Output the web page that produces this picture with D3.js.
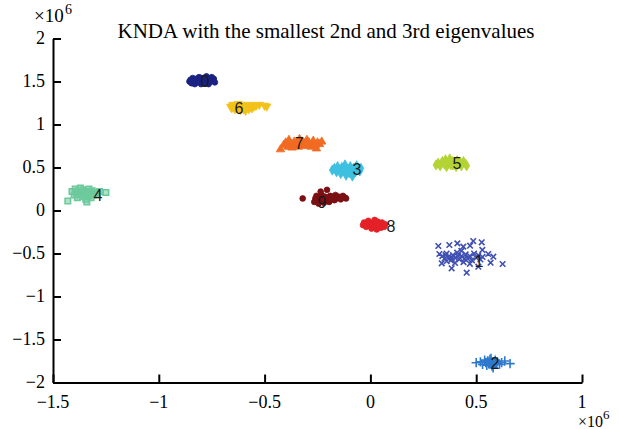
<!DOCTYPE html>
<html>
<head>
<meta charset="utf-8">
<script src="https://d3js.org/d3.v7.min.js"></script>
<style>
  body { margin: 0; background: #fff; }
  svg { display: block; }
</style>
</head>
<body>
<div class="chatterContainer"></div>
<script>

// class names, colours and the label positions (x, y in units of 10^6)
var classNames = ["0", "1", "2", "3", "4", "5", "6", "7", "8", "9"];
var classColors = ["#1c2283", "#4050b2", "#2f79cd", "#3ec0e0", "#6dca9d",
                   "#b4d335", "#f2c21b", "#f26b22", "#e32127", "#7a1013"];
var labelX = [-0.782, 0.513, 0.589, -0.063, -1.287, 0.409, -0.621, -0.337, 0.097, -0.229];
var labelY = [1.506, -0.587, -1.773, 0.483, 0.180, 0.552, 1.192, 0.785, -0.180, 0.099];

// tick labels
var xTicks = [-1.5, -1, -0.5, 0, 0.5, 1];
var yTicks = [-2, -1.5, -1, -0.5, 0, 0.5, 1, 1.5, 2];

// the points of every class (x, y in units of 10^6)
var points0 = [[-0.855,1.50],[-0.85,1.52],[-0.845,1.48],[-0.84,1.54],[-0.835,1.50],[-0.83,1.47],
  [-0.825,1.53],[-0.82,1.51],[-0.815,1.49],[-0.81,1.55],[-0.805,1.52],[-0.80,1.47],[-0.795,1.50],
  [-0.79,1.54],[-0.785,1.48],[-0.78,1.52],[-0.775,1.56],[-0.77,1.50],[-0.765,1.47],[-0.76,1.53],
  [-0.755,1.50],[-0.75,1.55],[-0.745,1.51],[-0.74,1.53],[-0.735,1.49],[-0.81,1.50],[-0.79,1.51],
  [-0.77,1.53],[-0.83,1.52],[-0.80,1.54]];
var points1 = [[0.321,-0.413],[0.373,-0.401],[0.411,-0.382],[0.439,-0.420],[0.471,-0.409],
  [0.486,-0.355],[0.526,-0.370],[0.529,-0.459],[0.557,-0.506],[0.568,-0.607],[0.581,-0.537],
  [0.625,-0.622],[0.510,-0.653],[0.455,-0.723],[0.384,-0.672],[0.337,-0.614],[0.326,-0.506],
  [0.34,-0.53],[0.35,-0.56],[0.36,-0.50],[0.37,-0.54],[0.38,-0.58],[0.39,-0.52],[0.40,-0.55],
  [0.41,-0.49],[0.42,-0.57],[0.43,-0.53],[0.44,-0.60],[0.45,-0.51],[0.46,-0.56],[0.47,-0.53],
  [0.48,-0.58],[0.49,-0.50],[0.50,-0.55],[0.51,-0.52],[0.52,-0.57],[0.40,-0.61],[0.36,-0.59],
  [0.43,-0.47],[0.47,-0.62],[0.53,-0.54],[0.355,-0.52],[0.385,-0.55],[0.415,-0.53],[0.445,-0.56]];
var points2 = [[0.50,-1.77],[0.52,-1.76],[0.53,-1.79],[0.54,-1.74],[0.545,-1.77],[0.55,-1.80],
  [0.555,-1.75],[0.56,-1.78],[0.565,-1.73],[0.57,-1.77],[0.575,-1.81],[0.58,-1.76],[0.585,-1.79],
  [0.59,-1.74],[0.595,-1.78],[0.60,-1.76],[0.61,-1.79],[0.62,-1.77],[0.635,-1.75],[0.66,-1.78],
  [0.57,-1.72],[0.58,-1.83]];
var points3 = [[-0.18,0.47],[-0.17,0.49],[-0.16,0.45],[-0.155,0.51],[-0.145,0.47],[-0.14,0.43],
  [-0.135,0.50],[-0.125,0.46],[-0.12,0.53],[-0.115,0.41],[-0.11,0.48],[-0.10,0.44],[-0.095,0.51],
  [-0.09,0.47],[-0.085,0.40],[-0.08,0.49],[-0.07,0.45],[-0.065,0.52],[-0.06,0.48],[-0.05,0.46],
  [-0.045,0.49],[-0.10,0.48],[-0.13,0.48]];
var points4 = [[-1.43,0.11],[-1.41,0.22],[-1.40,0.18],[-1.395,0.25],[-1.39,0.20],[-1.385,0.15],
  [-1.38,0.23],[-1.375,0.18],[-1.37,0.26],[-1.365,0.21],[-1.36,0.16],[-1.355,0.24],[-1.35,0.19],
  [-1.345,0.13],[-1.34,0.22],[-1.335,0.17],[-1.33,0.25],[-1.325,0.20],[-1.32,0.15],[-1.315,0.23],
  [-1.31,0.18],[-1.30,0.21],[-1.29,0.19],[-1.28,0.22],[-1.25,0.21],[-1.34,0.10],[-1.36,0.20]];
var points5 = [[0.31,0.53],[0.32,0.55],[0.33,0.52],[0.34,0.57],[0.35,0.54],[0.355,0.59],[0.36,0.51],
  [0.37,0.56],[0.375,0.60],[0.38,0.53],[0.39,0.57],[0.40,0.55],[0.405,0.51],[0.41,0.58],[0.42,0.54],
  [0.425,0.56],[0.43,0.52],[0.44,0.57],[0.45,0.54],[0.455,0.52],[0.39,0.53],[0.36,0.55]];
var points6 = [[-0.66,1.21],[-0.655,1.19],[-0.65,1.23],[-0.645,1.20],[-0.64,1.18],[-0.635,1.22],
  [-0.63,1.19],[-0.625,1.24],[-0.62,1.21],[-0.615,1.17],[-0.61,1.20],[-0.605,1.23],[-0.60,1.18],
  [-0.595,1.21],[-0.59,1.16],[-0.585,1.20],[-0.58,1.22],[-0.575,1.18],[-0.57,1.20],[-0.565,1.23],
  [-0.56,1.19],[-0.55,1.21],[-0.54,1.22],[-0.525,1.23],[-0.50,1.22],[-0.49,1.21],[-0.62,1.20],
  [-0.60,1.20]];
var points7 = [[-0.425,0.71],[-0.41,0.76],[-0.40,0.79],[-0.39,0.74],[-0.385,0.82],[-0.375,0.77],
  [-0.37,0.73],[-0.36,0.80],[-0.355,0.76],[-0.345,0.79],[-0.34,0.74],[-0.335,0.83],[-0.33,0.77],
  [-0.32,0.80],[-0.315,0.75],[-0.31,0.78],[-0.30,0.82],[-0.295,0.76],[-0.29,0.79],[-0.28,0.74],
  [-0.275,0.78],[-0.27,0.81],[-0.26,0.76],[-0.255,0.72],[-0.25,0.79],[-0.24,0.77],[-0.23,0.80],
  [-0.35,0.78],[-0.32,0.77],[-0.30,0.78]];
var points8 = [[-0.035,-0.17],[-0.03,-0.14],[-0.02,-0.19],[-0.015,-0.15],[-0.01,-0.12],[0.0,-0.17],
  [0.005,-0.21],[0.01,-0.14],[0.015,-0.19],[0.02,-0.11],[0.025,-0.16],[0.03,-0.22],[0.035,-0.13],
  [0.04,-0.18],[0.045,-0.15],[0.05,-0.20],[0.055,-0.14],[0.06,-0.17],[0.065,-0.19],[0.07,-0.16],
  [0.02,-0.17],[0.04,-0.16]];
var points9 = [[-0.32,0.14],[-0.265,0.10],[-0.26,0.14],[-0.255,0.17],[-0.25,0.12],[-0.245,0.08],
  [-0.24,0.15],[-0.235,0.11],[-0.23,0.18],[-0.225,0.13],[-0.22,0.09],[-0.215,0.16],[-0.21,0.12],
  [-0.205,0.24],[-0.20,0.15],[-0.195,0.10],[-0.19,0.17],[-0.185,0.13],[-0.18,0.16],[-0.17,0.12],
  [-0.165,0.18],[-0.16,0.14],[-0.15,0.16],[-0.14,0.13],[-0.13,0.17],[-0.12,0.15],[-0.115,0.14],
  [-0.235,0.22],[-0.22,0.14]];

var allPoints = [points0, points1, points2, points3, points4, points5, points6, points7, points8, points9];

window.onload = function() {
  startProgram();
};

function startProgram() {
  var dataStyle = makeAxis();
  makeScatter(dataStyle);
}

// marker per class, like the matlab gscatter markers
function markerFor(i) {
  var timesShape = d3.symbolTimes || d3.symbolCross;
  var plusShape = d3.symbolPlus || d3.symbolCross;
  var list = [
    { type: d3.symbolCircle, size: 26, rot: 0, fill: true },
    { type: timesShape, size: 22, rot: 0, fill: false },
    { type: plusShape, size: 30, rot: 0, fill: false },
    { type: d3.symbolDiamond, size: 30, rot: 0, fill: true },
    { type: d3.symbolSquare, size: 30, rot: 0, fill: "half" },
    { type: d3.symbolDiamond, size: 30, rot: 0, fill: true },
    { type: d3.symbolTriangle, size: 30, rot: 180, fill: true },
    { type: d3.symbolTriangle, size: 30, rot: 0, fill: true },
    { type: d3.symbolCircle, size: 26, rot: 0, fill: true },
    { type: d3.symbolCircle, size: 26, rot: 0, fill: true }
  ];
  return list[i];
}

function makeScatter(dataStyle) {
  var canvas = dataStyle.canvas;

  // draw every class as its own group
  allPoints.forEach(function(pts, i) {
    var m = markerFor(i);
    var symbol = d3.symbol().type(m.type).size(m.size);
    var g = canvas.append("g").attr("class", "class" + i);

    g.selectAll("path")
      .data(pts)
      .enter()
      .append("path")
      .attr("d", symbol)
      .attr("transform", function(d) {
        return "translate(" + dataStyle.xScale(d[0]) + "," + dataStyle.yScale(d[1]) + ") rotate(" + m.rot + ")";
      })
      .style("fill", m.fill ? classColors[i] : "none")
      .style("fill-opacity", m.fill === "half" ? 0.55 : 1)
      .style("stroke", classColors[i])
      .style("stroke-width", m.fill === true ? 0.8 : 1.6);
  });

  // class number at the centre of every group
  canvas.selectAll(".classLabel")
    .data(classNames)
    .enter()
    .append("text")
    .attr("class", "classLabel")
    .attr("x", function(d, i) { return dataStyle.xScale(labelX[i]); })
    .attr("y", function(d, i) { return dataStyle.yScale(labelY[i]); })
    .attr("dy", "0.36em")
    .style("text-anchor", "middle")
    .style("font-family", "'Liberation Sans', Arial, sans-serif")
    .style("font-size", "16px")
    .style("fill", "#1a1a1a")
    .text(function(d) { return d; });
}

function makeAxis() {
  var canvasWidth = 619,
      canvasHeight = 429,
      margin = { top: 38.5, right: 37, bottom: 46.5, left: 53 };

  var width = canvasWidth - margin.left - margin.right;
  var height = canvasHeight - margin.top - margin.bottom;

  var xScale = d3.scaleLinear()
    .domain([-1.5, 1])
    .range([margin.left, margin.left + width]);
  var yScale = d3.scaleLinear()
    .domain([-2, 2])
    .range([margin.top + height, margin.top]);

  var canvas = d3.select(".chatterContainer")
    .append("svg")
    .attr("width", canvasWidth)
    .attr("height", canvasHeight);

  var serif = "'Liberation Serif', 'Times New Roman', serif";

  // ticks go inwards, like matlab
  var xAxis = d3.axisTop(xScale)
    .tickValues(xTicks)
    .tickSizeInner(8)
    .tickSizeOuter(0)
    .tickFormat("");
  var yAxis = d3.axisRight(yScale)
    .tickValues(yTicks)
    .tickSizeInner(8)
    .tickSizeOuter(0)
    .tickFormat("");

  var gx = canvas.append("g")
    .attr("transform", "translate(0," + (margin.top + height) + ")")
    .call(xAxis);
  var gy = canvas.append("g")
    .attr("transform", "translate(" + margin.left + ",0)")
    .call(yAxis);

  [gx, gy].forEach(function(g) {
    g.selectAll("line").style("stroke", "#000").style("stroke-width", 2);
    g.select(".domain").style("stroke", "#000").style("stroke-width", 2);
  });

  // tick labels, minus sign as in the picture
  var fmt = function(v) { return String(v).replace("-", "\u2212"); };

  canvas.selectAll(".xLabel")
    .data(xTicks)
    .enter()
    .append("text")
    .attr("class", "xLabel")
    .attr("x", function(d) { return xScale(d); })
    .attr("y", 408)
    .style("text-anchor", "middle")
    .style("font-family", serif)
    .style("font-size", "18px")
    .text(fmt);

  canvas.selectAll(".yLabel")
    .data(yTicks)
    .enter()
    .append("text")
    .attr("class", "yLabel")
    .attr("x", 45)
    .attr("y", function(d) { return yScale(d); })
    .attr("dy", "0.3em")
    .style("text-anchor", "end")
    .style("font-family", serif)
    .style("font-size", "18px")
    .text(fmt);

  // exponent markers, base and power as separate texts
  canvas.append("text")
    .attr("x", 34)
    .attr("y", 22)
    .style("font-family", serif)
    .style("font-size", "19px")
    .text("\u00d710");
  canvas.append("text")
    .attr("x", 65)
    .attr("y", 14)
    .style("font-family", serif)
    .style("font-size", "14px")
    .text("6");

  canvas.append("text")
    .attr("x", 578)
    .attr("y", 427)
    .style("font-family", serif)
    .style("font-size", "16px")
    .text("\u00d710");
  canvas.append("text")
    .attr("x", 603)
    .attr("y", 419)
    .style("font-family", serif)
    .style("font-size", "13px")
    .text("6");

  // title
  canvas.append("text")
    .attr("x", 326)
    .attr("y", 38)
    .style("text-anchor", "middle")
    .style("font-family", serif)
    .style("font-size", "21px")
    .text("KNDA with the smallest 2nd and 3rd eigenvalues");

  return { xScale: xScale, yScale: yScale, canvas: canvas, margin: margin };
}
</script>
</body>
</html>
